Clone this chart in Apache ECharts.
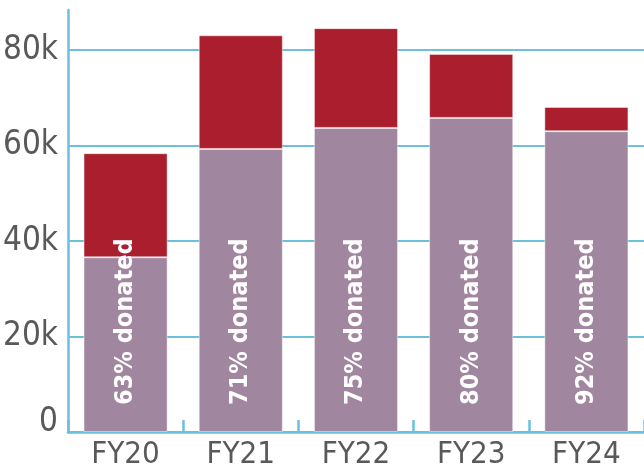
<!DOCTYPE html>
<html>
<head>
<meta charset="utf-8">
<script src="https://cdn.jsdelivr.net/npm/echarts@6/dist/echarts.min.js"></script>
<style>
  html, body { margin: 0; padding: 0; background: #fff; }
  #chart { width: 644px; height: 470px; }
</style>
</head>
<body>
<div id="chart"></div>
<script>
    const years = ['FY20', 'FY21', 'FY22', 'FY23', 'FY24'];
    // donated part (bottom, purple)
    const donated = [36600, 59300, 63700, 65800, 63000];
    // remaining part (top, red)
    const rest = [21800, 23800, 20900, 13400, 5100];
    const donatedLabels = ['63% donated', '71% donated', '75% donated', '80% donated', '92% donated'];

    const axisBlue = '#6cc0dc';
    const font = 'Liberation Sans Narrow, DejaVu Sans Condensed, Liberation Sans, sans-serif';
    const chart = echarts.init(document.getElementById('chart'));
    chart.setOption({
        animation: false,
        grid: {left: 67, right: -2, top: 10, bottom: 38, containLabel: false},
        xAxis: {
            type: 'category',
            data: years,
            axisLine: {lineStyle: {color: axisBlue, width: 2.5}},
            axisTick: {show: true, inside: true, length: 12, lineStyle: {color: axisBlue, width: 2.5}},
            axisLabel: {color: '#595959', fontSize: 31, margin: 7, fontFamily: font}
        },
        yAxis: {
            type: 'value',
            min: 0,
            max: 88400,
            interval: 20000,
            axisLine: {show: true, lineStyle: {color: axisBlue, width: 2.5}},
            axisTick: {show: false},
            splitLine: {show: true, showMaxLine: false, lineStyle: {color: axisBlue, width: 2}},
            axisLabel: {
                color: '#595959', fontSize: 33, margin: 10, showMaxLabel: false,
                fontFamily: font,
                formatter: v => v === 0 ? '{z|0}' : (v / 1000) + 'k',
                rich: {
                    z: {color: '#595959', fontSize: 33, fontFamily: font, padding: [0, 0, 20, 0]}
                }
            }
        },
        series: [
            {
                type: 'bar',
                stack: 'total',
                data: donated,
                barCategoryGap: '27%',
                itemStyle: {color: '#a0869e', borderColor: 'rgba(255,255,255,0.45)', borderWidth: 1},
                label: {
                    show: true,
                    position: 'insideBottom',
                    rotate: 90,
                    align: 'left',
                    verticalAlign: 'middle',
                    distance: 27,
                    color: '#fff',
                    fontSize: 25,
                    fontWeight: 'bold',
                    fontFamily: font,
                    formatter: p => donatedLabels[p.dataIndex]
                }
            },
            {
                type: 'bar',
                stack: 'total',
                data: rest,
                itemStyle: {color: '#aa1e2d', borderColor: 'rgba(255,255,255,0.45)', borderWidth: 1}
            }
        ]
    });
</script>
</body>
</html>
